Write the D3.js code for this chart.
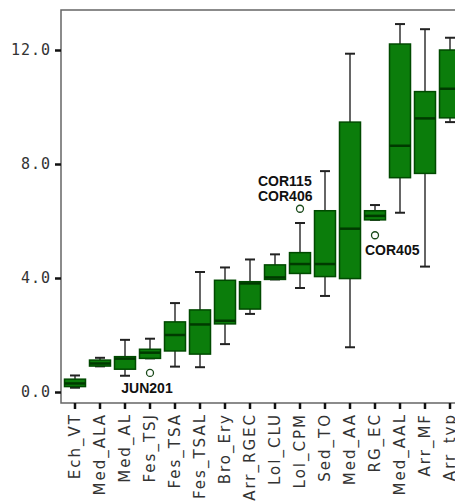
<!DOCTYPE html>
<html>
<head>
  <meta charset="utf-8">
  <title>Boxplot</title>
  <script src="https://d3js.org/d3.v7.min.js"></script>
  <style>
    body { margin: 0; background: #fff; overflow: hidden; }
    svg { display: block; }
  </style>
</head>
<body>
  <svg id="chart"></svg>
  <script>
    // categories and box statistics
    const categories = ["Ech_VT", "Med_ALA", "Med_AL", "Fes_TSJ", "Fes_TSA", "Fes_TSAL",
      "Bro_Ery", "Arr_RGEC", "Lol_CLU", "Lol_CPM", "Sed_TO", "Med_AA", "RG_EC",
      "Med_AAL", "Arr_MF", "Arr_tvp"];
    const whiskerLow  = [0.15, 0.90, 0.57, 1.18, 0.89, 0.87, 1.68, 2.74, 3.95, 3.65, 3.37, 1.57, 6.04, 6.29, 4.40, 9.47];
    const q1          = [0.19, 0.91, 0.80, 1.18, 1.44, 1.33, 2.39, 2.91, 3.95, 4.16, 4.05, 3.98, 6.04, 7.52, 7.67, 9.62];
    const median      = [0.30, 1.00, 1.17, 1.38, 2.00, 2.37, 2.50, 3.81, 4.02, 4.49, 4.49, 5.73, 6.18, 8.64, 9.60, 10.64];
    const q3          = [0.45, 1.12, 1.24, 1.50, 2.46, 2.88, 3.92, 3.87, 4.46, 4.89, 6.36, 9.47, 6.36, 12.21, 10.54, 12.00];
    const whiskerHigh = [0.58, 1.20, 1.83, 1.87, 3.12, 4.21, 4.37, 4.65, 4.83, 5.93, 7.75, 11.87, 6.56, 12.91, 12.73, 12.43];

    const outlierCats   = ["Fes_TSJ", "Lol_CPM", "RG_EC"];
    const outlierValues = [0.67, 6.43, 5.50];
    const outlierLabels = [["JUN201"], ["COR115", "COR406"], ["COR405"]];

    const yTicks = [0, 4, 8, 12];

    const width = 455, height = 501;
    const plotLeft = 61, plotTop = 10, plotBottom = 403, plotRight = 470;

    const svg = d3.select("#chart")
      .attr("width", width)
      .attr("height", height);

    const x = d3.scaleBand()
      .domain(categories)
      .range([62.5, 462.5])
      .paddingInner(0.16)
      .paddingOuter(0.08);

    const y = d3.scaleLinear()
      .domain([0, 12])
      .range([392, 50]);

    const cx = c => x(c) + x.bandwidth() / 2;

    // frame
    svg.append("path")
      .attr("d", `M${plotRight},${plotTop}H${plotLeft}V${plotBottom}H${plotRight}`)
      .attr("fill", "none")
      .attr("stroke", "#666")
      .attr("stroke-width", 1.5);

    // y axis
    const yAxis = svg.append("g")
      .attr("transform", `translate(${plotLeft},0)`)
      .call(d3.axisLeft(y).tickValues(yTicks).tickFormat(d3.format(".1f")).tickSize(6).tickPadding(4));
    yAxis.select(".domain").remove();
    yAxis.selectAll(".tick line").attr("stroke", "#111").attr("stroke-width", 2.5);
    yAxis.selectAll(".tick text")
      .attr("fill", "#333")
      .style("font-family", "'DejaVu Sans Mono', monospace")
      .style("font-size", "15px")
      .style("letter-spacing", "1px");

    // x axis
    const xAxis = svg.append("g")
      .attr("transform", `translate(0,${plotBottom})`)
      .call(d3.axisBottom(x).tickSize(6).tickPadding(4));
    xAxis.select(".domain").remove();
    xAxis.selectAll(".tick line").attr("stroke", "#111").attr("stroke-width", 2.5);
    xAxis.selectAll(".tick text")
      .attr("fill", "#333")
      .attr("text-anchor", "end")
      .attr("transform", "translate(0,10) rotate(-90)")
      .attr("x", 0)
      .attr("y", 0)
      .attr("dy", "0.36em")
      .style("font-family", "'DejaVu Sans', sans-serif")
      .style("font-size", "15px")
      .style("letter-spacing", "2px");

    // boxes
    const boxes = svg.append("g");
    const bw = x.bandwidth();
    const capW = 10;

    categories.forEach((c, i) => {
      const g = boxes.append("g");
      const xc = cx(c);
      // whiskers
      g.append("line")
        .attr("x1", xc).attr("x2", xc)
        .attr("y1", y(whiskerHigh[i])).attr("y2", y(q3[i]))
        .attr("stroke", "#333").attr("stroke-width", 1.5);
      g.append("line")
        .attr("x1", xc).attr("x2", xc)
        .attr("y1", y(q1[i])).attr("y2", y(whiskerLow[i]))
        .attr("stroke", "#333").attr("stroke-width", 1.5);
      g.append("line")
        .attr("x1", xc - capW / 2).attr("x2", xc + capW / 2)
        .attr("y1", y(whiskerHigh[i])).attr("y2", y(whiskerHigh[i]))
        .attr("stroke", "#222").attr("stroke-width", 2);
      g.append("line")
        .attr("x1", xc - capW / 2).attr("x2", xc + capW / 2)
        .attr("y1", y(whiskerLow[i])).attr("y2", y(whiskerLow[i]))
        .attr("stroke", "#222").attr("stroke-width", 2);
      // box
      g.append("rect")
        .attr("x", x(c))
        .attr("y", y(q3[i]))
        .attr("width", bw)
        .attr("height", Math.max(y(q1[i]) - y(q3[i]), 2))
        .attr("fill", "#0b7d0b")
        .attr("stroke", "#004a00")
        .attr("stroke-width", 1.5);
      // median
      g.append("line")
        .attr("x1", x(c)).attr("x2", x(c) + bw)
        .attr("y1", y(median[i])).attr("y2", y(median[i]))
        .attr("stroke", "#003a00").attr("stroke-width", 2.5);
    });

    // outliers
    const labelPlace = [
      { dx: -3, dy: 20, anchor: "middle" },
      { dx: -42, dy: -8, anchor: "start" },
      { dx: -10, dy: 20, anchor: "start" }
    ];
    outlierCats.forEach((c, i) => {
      const px = cx(c), py = y(outlierValues[i]);
      svg.append("circle")
        .attr("cx", px).attr("cy", py).attr("r", 3.5)
        .attr("fill", "#fff")
        .attr("stroke", "#1a4a1a")
        .attr("stroke-width", 1.3);
      const p = labelPlace[i];
      const lines = outlierLabels[i];
      lines.forEach((t, k) => {
        svg.append("text")
          .attr("x", px + p.dx)
          .attr("y", py + p.dy - (lines.length - 1 - k) * 15)
          .attr("text-anchor", p.anchor)
          .attr("fill", "#111")
          .style("font-family", "'Liberation Sans', Arial, sans-serif")
          .style("font-weight", "bold")
          .style("font-size", "14px")
          .text(t);
      });
    });
  </script>
</body>
</html>
